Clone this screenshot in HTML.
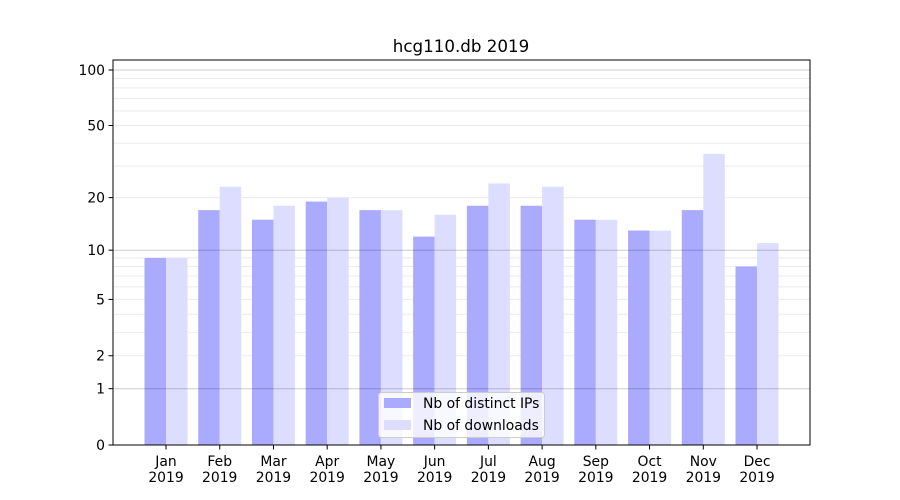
<!DOCTYPE html>
<html><head><meta charset="utf-8"><style>body{margin:0;background:#fff}svg{display:block}</style></head>
<body>
<svg id="c" width="900" height="500" xmlns="http://www.w3.org/2000/svg" font-family="'DejaVu Sans', 'Liberation Sans', sans-serif"></svg>
<script>
const s=document.getElementById('c');let h='';
const Y=v=>445-187.1*Math.log10(1+v);
const L=113,R=810;
[2,3,4,5,6,7,8,9,20,30,40,50,60,70,80,90].forEach(v=>{h+=`<line x1="${L}" x2="${R}" y1="${Y(v).toFixed(1)}" y2="${Y(v).toFixed(1)}" stroke="#ebebeb" stroke-width="1"/>`;});
const ip=[9,17,15,19,17,12,18,18,15,13,17,8],dl=[9,23,18,20,17,16,24,23,15,13,35,11];
const mo=['Jan','Feb','Mar','Apr','May','Jun','Jul','Aug','Sep','Oct','Nov','Dec'];
for(let i=0;i<12;i++){const cx=166+i*53.73;
h+=`<rect x="${cx-21.5}" y="${Y(ip[i])}" width="21.5" height="${445-Y(ip[i])}" fill="#aaaaff"/>`;
h+=`<rect x="${cx}" y="${Y(dl[i])}" width="21.5" height="${445-Y(dl[i])}" fill="#ddddff"/>`;
h+=`<line x1="${cx}" x2="${cx}" y1="445" y2="449.5" stroke="#000"/>`;
h+=`<text x="${cx}" y="466" font-size="13.9" text-anchor="middle">${mo[i]}</text><text x="${cx}" y="482" font-size="13.9" text-anchor="middle">2019</text>`;}
[1,10,100].forEach(v=>{h+=`<line x1="${L}" x2="${R}" y1="${Y(v).toFixed(1)}" y2="${Y(v).toFixed(1)}" stroke="rgba(0,0,0,0.2)" stroke-width="1"/>`;});
[0,1,2,5,10,20,50,100].forEach(v=>{const y=Y(v);h+=`<line x1="${L}" x2="${L-4.5}" y1="${y}" y2="${y}" stroke="#000"/><text x="${L-8}" y="${y+5}" font-size="13.9" text-anchor="end">${v}</text>`;});
h+=`<rect x="${L}" y="60" width="${R-L}" height="385" fill="none" stroke="#000" stroke-width="1"/>`;
h+=`<text x="461" y="52" font-size="16.7" text-anchor="middle">hcg110.db 2019</text>`;
h+=`<rect x="378.5" y="392.5" width="166" height="45" rx="3" fill="rgba(255,255,255,0.8)" stroke="#ccc"/>`;
h+=`<rect x="384" y="398" width="27" height="10" fill="#aaaaff"/><text x="423" y="408" font-size="13.9">Nb of distinct IPs</text>`;
h+=`<rect x="384" y="420" width="27" height="10" fill="#ddddff"/><text x="423" y="430" font-size="13.9">Nb of downloads</text>`;
s.innerHTML=h;
</script>
</body></html>
